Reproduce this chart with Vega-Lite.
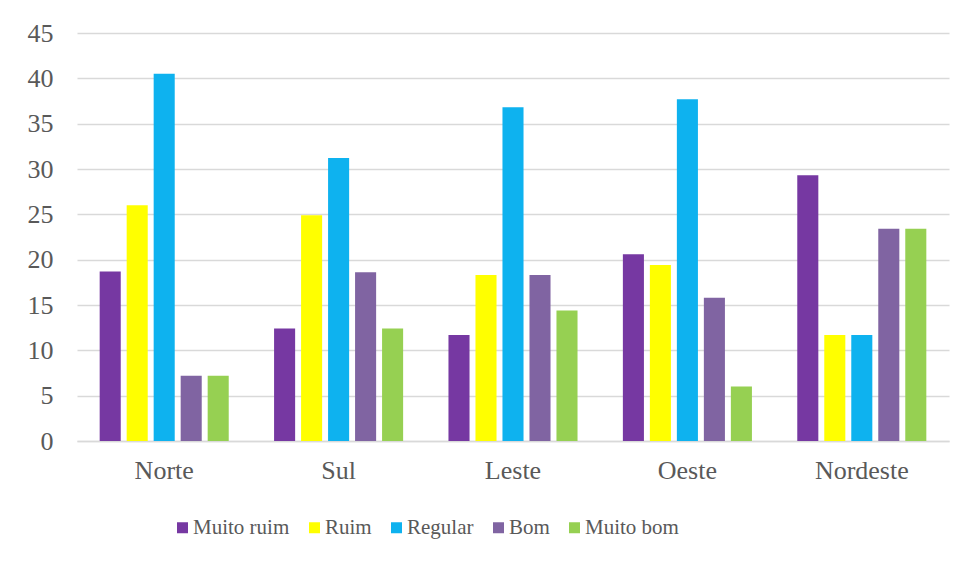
{
  "$schema": "https://vega.github.io/schema/vega-lite/v6.json",
  "autosize": "none",
  "width": 872,
  "height": 408,
  "padding": {"left": 77, "top": 33, "right": 19, "bottom": 121},
  "background": "white",
  "config": {
    "font": "Liberation Serif",
    "view": {"stroke": null},
    "axis": {"labelFont": "Liberation Serif", "labelFontSize": 26, "labelColor": "#595959", "ticks": false, "title": null},
    "legend": {"labelFont": "Liberation Serif", "labelFontSize": 20, "labelColor": "#595959"}
  },
  "data": {
    "values": [
      {"regiao": "Norte", "avaliacao": "Muito ruim", "valor": 18.7},
      {"regiao": "Norte", "avaliacao": "Ruim", "valor": 26.0},
      {"regiao": "Norte", "avaliacao": "Regular", "valor": 40.5},
      {"regiao": "Norte", "avaliacao": "Bom", "valor": 7.2},
      {"regiao": "Norte", "avaliacao": "Muito bom", "valor": 7.2},
      {"regiao": "Sul", "avaliacao": "Muito ruim", "valor": 12.4},
      {"regiao": "Sul", "avaliacao": "Ruim", "valor": 24.9},
      {"regiao": "Sul", "avaliacao": "Regular", "valor": 31.2},
      {"regiao": "Sul", "avaliacao": "Bom", "valor": 18.6},
      {"regiao": "Sul", "avaliacao": "Muito bom", "valor": 12.4},
      {"regiao": "Leste", "avaliacao": "Muito ruim", "valor": 11.7},
      {"regiao": "Leste", "avaliacao": "Ruim", "valor": 18.3},
      {"regiao": "Leste", "avaliacao": "Regular", "valor": 36.8},
      {"regiao": "Leste", "avaliacao": "Bom", "valor": 18.3},
      {"regiao": "Leste", "avaliacao": "Muito bom", "valor": 14.4},
      {"regiao": "Oeste", "avaliacao": "Muito ruim", "valor": 20.6},
      {"regiao": "Oeste", "avaliacao": "Ruim", "valor": 19.4},
      {"regiao": "Oeste", "avaliacao": "Regular", "valor": 37.7},
      {"regiao": "Oeste", "avaliacao": "Bom", "valor": 15.8},
      {"regiao": "Oeste", "avaliacao": "Muito bom", "valor": 6.0},
      {"regiao": "Nordeste", "avaliacao": "Muito ruim", "valor": 29.3},
      {"regiao": "Nordeste", "avaliacao": "Ruim", "valor": 11.7},
      {"regiao": "Nordeste", "avaliacao": "Regular", "valor": 11.7},
      {"regiao": "Nordeste", "avaliacao": "Bom", "valor": 23.4},
      {"regiao": "Nordeste", "avaliacao": "Muito bom", "valor": 23.4}
    ]
  },
  "mark": {"type": "bar"},
  "encoding": {
    "x": {
      "field": "regiao", "type": "nominal",
      "sort": ["Norte", "Sul", "Leste", "Oeste", "Nordeste"],
      "scale": {"paddingInner": 0.26, "paddingOuter": 0.13},
      "axis": {"labelAngle": 0, "labelPadding": 16, "domainColor": "#d9d9d9", "domainWidth": 1.5, "grid": false}
    },
    "xOffset": {
      "field": "avaliacao", "type": "nominal",
      "sort": ["Muito ruim", "Ruim", "Regular", "Bom", "Muito bom"],
      "scale": {"paddingInner": 0.22, "paddingOuter": 0}
    },
    "y": {
      "field": "valor", "type": "quantitative",
      "scale": {"domain": [0, 45], "nice": false},
      "axis": {"values": [0, 5, 10, 15, 20, 25, 30, 35, 40, 45], "domain": false, "gridColor": "#d9d9d9", "gridWidth": 1.5, "labelPadding": 24}
    },
    "color": {
      "field": "avaliacao", "type": "nominal",
      "sort": ["Muito ruim", "Ruim", "Regular", "Bom", "Muito bom"],
      "scale": {"domain": ["Muito ruim", "Ruim", "Regular", "Bom", "Muito bom"], "range": ["#7638A2", "#FFFF00", "#0EB2EF", "#8064A2", "#96D052"]},
      "legend": {"title": null, "orient": "none", "direction": "horizontal", "legendX": 95, "legendY": 484, "symbolType": "square", "symbolSize": 121, "symbolStrokeWidth": 0, "symbolOpacity": 1, "labelOffset": 0, "columnPadding": 14, "labelFont": "Liberation Serif", "labelFontSize": 21, "labelColor": "#595959"}
    }
  }
}
